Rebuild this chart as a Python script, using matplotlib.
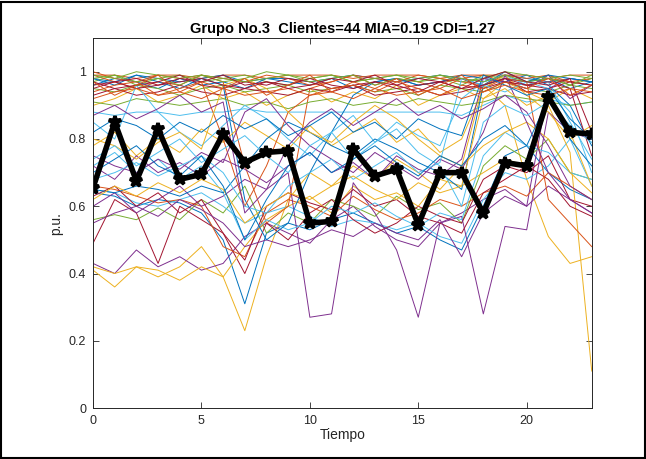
import matplotlib.pyplot as plt
from matplotlib.patches import Rectangle

plt.rcParams['font.family'] = ['Liberation Sans', 'DejaVu Sans']

tiempo = list(range(24))

# Curvas de los clientes (p.u.), en el orden en que se dibujan
c01 = [0.64, 0.63, 0.60, 0.62, 0.61, 0.58, 0.50, 0.31, 0.52, 0.55, 0.53, 0.56, 0.58, 0.55, 0.52, 0.54, 0.50, 0.47, 0.60, 0.75, 0.78, 0.70, 0.65, 0.62]
c02 = [0.99, 0.99, 0.98, 0.99, 0.99, 0.98, 0.99, 0.99, 0.98, 0.99, 0.99, 0.99, 0.98, 0.99, 0.99, 0.99, 0.98, 0.99, 0.99, 0.99, 0.99, 0.98, 0.99, 0.99]
c03 = [0.41, 0.36, 0.42, 0.39, 0.42, 0.48, 0.39, 0.23, 0.45, 0.62, 0.70, 0.66, 0.72, 0.68, 0.74, 0.70, 0.65, 0.72, 0.96, 0.90, 0.68, 0.51, 0.43, 0.45]
c04 = [0.43, 0.40, 0.47, 0.42, 0.45, 0.41, 0.43, 0.51, 0.55, 0.52, 0.49, 0.56, 0.60, 0.54, 0.50, 0.48, 0.55, 0.58, 0.62, 0.65, 0.60, 0.95, 0.98, 0.97]
c05 = [0.56, 0.575, 0.56, 0.595, 0.56, 0.62, 0.58, 0.66, 0.52, 0.58, 0.55, 0.62, 0.60, 0.57, 0.63, 0.59, 0.61, 0.55, 0.72, 0.78, 0.74, 0.80, 0.70, 0.68]
c06 = [0.65, 0.64, 0.61, 0.60, 0.62, 0.64, 0.60, 0.55, 0.58, 0.60, 0.57, 0.54, 0.56, 0.55, 0.53, 0.55, 0.51, 0.49, 0.62, 0.70, 0.68, 0.72, 0.80, 0.66]
c07 = [0.49, 0.62, 0.58, 0.43, 0.60, 0.56, 0.52, 0.40, 0.55, 0.50, 0.58, 0.62, 0.56, 0.52, 0.55, 0.60, 0.57, 0.55, 0.68, 0.72, 0.70, 0.75, 0.62, 0.60]
c08 = [0.98, 0.97, 0.99, 0.98, 0.97, 0.98, 0.99, 0.97, 0.98, 0.98, 0.97, 0.98, 0.99, 0.98, 0.97, 0.98, 0.99, 0.98, 0.97, 0.99, 0.98, 0.97, 0.98, 0.97]
c09 = [0.66, 0.65, 0.63, 0.61, 0.62, 0.60, 0.48, 0.45, 0.58, 0.62, 0.60, 0.57, 0.63, 0.59, 0.56, 0.58, 0.62, 0.60, 0.64, 0.66, 0.63, 0.70, 0.66, 0.62]
c10 = [0.42, 0.40, 0.42, 0.41, 0.38, 0.42, 0.39, 0.48, 0.56, 0.60, 0.63, 0.58, 0.66, 0.62, 0.64, 0.60, 0.68, 0.66, 0.70, 0.74, 0.72, 0.90, 0.76, 0.11]
c11 = [0.60, 0.64, 0.58, 0.62, 0.66, 0.60, 0.63, 0.68, 0.65, 0.70, 0.27, 0.28, 0.67, 0.58, 0.47, 0.27, 0.55, 0.57, 0.28, 0.54, 0.53, 0.88, 0.82, 0.80]
c12 = [0.97, 0.99, 0.96, 0.98, 0.99, 0.97, 0.98, 0.99, 0.97, 0.96, 0.98, 0.99, 0.97, 0.98, 0.99, 0.97, 0.98, 0.96, 0.99, 0.98, 0.97, 0.99, 0.96, 0.98]
c13 = [0.88, 0.87, 0.88, 0.88, 0.87, 0.88, 0.88, 0.89, 0.88, 0.88, 0.88, 0.88, 0.88, 0.88, 0.88, 0.88, 0.88, 0.87, 0.90, 0.93, 0.91, 0.92, 0.90, 0.91]
c14 = [0.63, 0.66, 0.60, 0.64, 0.58, 0.62, 0.52, 0.44, 0.60, 0.64, 0.61, 0.59, 0.65, 0.60, 0.62, 0.57, 0.55, 0.52, 0.64, 0.68, 0.72, 0.68, 0.60, 0.57]
c15 = [0.96, 0.98, 0.97, 0.95, 0.98, 0.96, 0.97, 0.95, 0.98, 0.97, 0.96, 0.98, 0.95, 0.97, 0.98, 0.96, 0.97, 0.98, 0.96, 1.00, 0.97, 0.98, 0.95, 0.97]
c16 = [0.99, 0.97, 0.95, 0.97, 0.96, 0.99, 0.97, 0.72, 0.55, 0.60, 0.95, 0.97, 0.99, 0.96, 0.98, 0.97, 0.95, 0.98, 0.99, 0.97, 0.96, 0.98, 0.97, 0.96]
c17 = [0.90, 0.92, 0.95, 0.91, 0.93, 0.96, 0.92, 0.94, 0.90, 0.93, 0.95, 0.91, 0.94, 0.92, 0.96, 0.90, 0.93, 0.95, 0.92, 0.97, 0.94, 0.91, 0.95, 0.92]
c18 = [0.55, 0.58, 0.60, 0.57, 0.62, 0.59, 0.55, 0.48, 0.50, 0.48, 0.50, 0.53, 0.51, 0.55, 0.52, 0.50, 0.56, 0.45, 0.58, 0.63, 0.60, 0.66, 0.62, 0.58]
c19 = [0.95, 0.94, 0.96, 0.95, 0.93, 0.95, 0.96, 0.94, 0.95, 0.96, 0.94, 0.95, 0.96, 0.94, 0.95, 0.93, 0.96, 0.95, 0.94, 0.97, 0.95, 0.94, 0.96, 0.95]
c20 = [0.72, 0.76, 0.70, 0.74, 0.68, 0.72, 0.64, 0.50, 0.56, 0.53, 0.55, 0.60, 0.58, 0.61, 0.57, 0.54, 0.58, 0.56, 0.75, 0.82, 0.78, 0.76, 0.70, 0.68]
c21 = [0.93, 0.95, 0.93, 0.94, 0.96, 0.94, 0.93, 0.95, 0.94, 0.93, 0.95, 0.94, 0.96, 0.93, 0.94, 0.95, 0.93, 0.94, 0.96, 0.98, 0.94, 0.95, 0.93, 0.94]
c22 = [0.98, 0.96, 0.99, 0.97, 0.95, 0.98, 0.96, 0.62, 0.50, 0.55, 0.70, 0.82, 0.93, 0.97, 0.98, 0.96, 0.97, 0.99, 0.98, 0.97, 0.99, 0.96, 0.90, 0.78]
c23 = [1.00, 0.98, 0.97, 0.99, 0.98, 0.99, 0.98, 0.97, 0.99, 0.98, 0.96, 0.97, 0.99, 0.98, 0.97, 0.99, 0.98, 0.97, 0.96, 0.99, 0.98, 0.99, 0.97, 0.98]
c24 = [0.78, 0.82, 0.75, 0.80, 0.76, 0.83, 0.79, 0.85, 0.81, 0.77, 0.84, 0.78, 0.82, 0.86, 0.79, 0.83, 0.76, 0.80, 0.95, 0.99, 0.93, 0.88, 0.80, 0.84]
c25 = [0.72, 0.68, 0.75, 0.70, 0.73, 0.69, 0.74, 0.71, 0.67, 0.72, 0.76, 0.70, 0.73, 0.68, 0.75, 0.71, 0.69, 0.74, 0.98, 0.97, 0.95, 0.99, 0.92, 0.96]
c26 = [0.91, 0.90, 0.92, 0.91, 0.90, 0.91, 0.92, 0.90, 0.91, 0.89, 0.91, 0.92, 0.90, 0.91, 0.90, 0.92, 0.91, 0.90, 0.91, 0.93, 0.92, 0.91, 0.90, 0.91]
c27 = [0.85, 0.80, 0.96, 0.88, 0.82, 0.78, 0.84, 0.90, 0.86, 0.80, 0.75, 0.82, 0.87, 0.79, 0.85, 0.81, 0.78, 0.92, 0.97, 0.99, 0.96, 0.97, 0.85, 0.74]
c28 = [0.97, 0.95, 0.96, 0.97, 0.99, 0.96, 0.95, 0.97, 0.96, 0.98, 0.97, 0.95, 0.96, 0.97, 0.95, 0.96, 0.97, 0.98, 0.95, 0.97, 0.96, 0.95, 0.97, 0.96]
c29 = [0.65, 0.64, 0.66, 0.65, 0.63, 0.66, 0.64, 0.72, 0.80, 0.85, 0.82, 0.78, 0.75, 0.80, 0.77, 0.73, 0.70, 0.65, 0.96, 0.98, 0.97, 0.99, 0.98, 0.97]
c30 = [0.94, 0.96, 0.97, 0.93, 0.95, 0.97, 0.80, 0.60, 0.72, 0.88, 0.93, 0.95, 0.96, 0.94, 0.97, 0.95, 0.93, 0.96, 0.95, 0.98, 0.97, 0.62, 0.55, 0.48]
c31 = [0.80, 0.78, 0.74, 0.79, 0.82, 0.77, 0.96, 0.98, 0.95, 0.88, 0.82, 0.79, 0.85, 0.90, 0.86, 0.80, 0.75, 0.72, 0.78, 0.82, 0.85, 0.80, 0.70, 0.64]
c32 = [0.75, 0.72, 0.70, 0.74, 0.71, 0.76, 0.73, 0.88, 0.92, 0.84, 0.78, 0.74, 0.70, 0.76, 0.72, 0.68, 0.74, 0.71, 0.82, 0.99, 0.85, 0.70, 0.62, 0.58]
c33 = [0.99, 0.98, 1.00, 0.99, 0.98, 0.99, 0.97, 0.98, 1.00, 0.99, 0.98, 0.99, 0.97, 0.98, 0.99, 0.98, 0.99, 0.97, 0.98, 1.00, 0.99, 0.98, 0.99, 0.98]
c34 = [0.68, 0.70, 0.73, 0.69, 0.72, 0.75, 0.70, 0.60, 0.58, 0.66, 0.70, 0.74, 0.68, 0.72, 0.76, 0.70, 0.73, 0.98, 0.96, 0.94, 0.97, 0.95, 0.88, 0.70]
c35 = [0.96, 0.97, 0.95, 0.96, 0.97, 0.98, 0.96, 0.95, 0.97, 0.96, 0.98, 0.96, 0.95, 0.97, 0.96, 0.94, 0.97, 0.95, 0.96, 0.98, 0.96, 0.97, 0.95, 0.75]
c36 = [0.82, 0.86, 0.84, 0.80, 0.85, 0.82, 0.87, 0.83, 0.86, 0.81, 0.84, 0.88, 0.82, 0.85, 0.80, 0.86, 0.83, 0.81, 0.99, 0.96, 0.93, 0.95, 0.86, 0.80]
c37 = [0.92, 0.94, 0.95, 0.93, 0.94, 0.92, 0.95, 0.93, 0.94, 0.95, 0.93, 0.94, 0.92, 0.95, 0.93, 0.94, 0.95, 0.92, 0.94, 0.96, 0.94, 0.93, 0.95, 0.94]
c38 = [0.62, 0.66, 0.63, 0.67, 0.64, 0.68, 0.65, 0.55, 0.60, 0.64, 0.62, 0.66, 0.69, 0.65, 0.62, 0.67, 0.64, 0.66, 0.92, 0.95, 0.90, 0.93, 0.82, 0.66]
c39 = [0.87, 0.90, 0.86, 0.89, 0.93, 0.88, 0.91, 0.58, 0.65, 0.78, 0.85, 0.89, 0.84, 0.88, 0.92, 0.87, 0.90, 0.86, 0.89, 0.93, 0.88, 0.78, 0.66, 0.62]
c40 = [0.98, 0.99, 0.97, 0.98, 0.96, 0.99, 0.98, 0.97, 0.98, 0.99, 0.97, 0.98, 0.99, 0.96, 0.98, 0.97, 0.99, 0.98, 0.97, 0.99, 0.97, 0.98, 0.96, 0.99]
c41 = [0.74, 0.78, 0.72, 0.76, 0.80, 0.73, 0.77, 0.81, 0.75, 0.70, 0.78, 0.82, 0.74, 0.79, 0.83, 0.76, 0.72, 0.60, 0.85, 0.90, 0.87, 0.91, 0.84, 0.79]
c42 = [0.95, 0.97, 0.98, 0.96, 0.98, 0.97, 0.99, 0.96, 0.97, 0.95, 0.96, 0.98, 0.97, 0.99, 0.96, 0.98, 0.97, 0.95, 0.98, 1.00, 0.97, 0.96, 0.98, 0.82]
c43 = [0.70, 0.74, 0.78, 0.72, 0.69, 0.75, 0.66, 0.50, 0.62, 0.72, 0.76, 0.70, 0.74, 0.78, 0.73, 0.69, 0.75, 0.72, 0.80, 0.84, 0.78, 0.92, 0.80, 0.72]
c44 = [0.97, 0.93, 0.96, 0.99, 0.94, 0.97, 0.95, 0.98, 0.93, 0.96, 0.99, 0.94, 0.97, 0.95, 0.98, 0.93, 0.96, 0.99, 0.94, 0.97, 0.95, 0.98, 0.93, 0.96]

clientes = [c01, c02, c03, c04, c05, c06, c07, c08, c09, c10, c11,
            c12, c13, c14, c15, c16, c17, c18, c19, c20, c21, c22,
            c23, c24, c25, c26, c27, c28, c29, c30, c31, c32, c33,
            c34, c35, c36, c37, c38, c39, c40, c41, c42, c43, c44]

# Curva representativa del grupo (negra)
centro = [0.655, 0.85, 0.675, 0.83, 0.68, 0.695, 0.815, 0.73, 0.76, 0.765, 0.55, 0.555,
          0.77, 0.69, 0.71, 0.545, 0.70, 0.70, 0.58, 0.73, 0.72, 0.925, 0.82, 0.815]

# Orden de colores por defecto de MATLAB
colores = ['#0072BD', '#D95319', '#EDB120', '#7E2F8E', '#77AC30', '#4DBEEE', '#A2142F']

fig = plt.figure(figsize=(6.46, 4.59), dpi=100)
ax = fig.add_axes([0.144, 0.111, 0.772, 0.806])

for i, c in enumerate(clientes):
    ax.plot(tiempo, c, color=colores[i % 7], linewidth=0.7)

ax.plot(tiempo, centro, color='black', linewidth=4, marker='*',
        markersize=9, markeredgewidth=2.6)

ax.set_xlim(0, 23)
ax.set_ylim(0, 1.1)
ax.set_xticks([0, 5, 10, 15, 20])
ax.set_yticks([0, 0.2, 0.4, 0.6, 0.8, 1])
ax.set_yticklabels(['0', '0.2', '0.4', '0.6', '0.8', '1'])
ax.tick_params(direction='in', top=True, right=True, labelsize=9, length=4,
               width=0.6, colors='#262626', pad=5)
for s in ax.spines.values():
    s.set_linewidth(0.7)
    s.set_color('#262626')

ax.set_xlabel('Tiempo', fontsize=10, color='#262626', labelpad=1)
ax.set_ylabel('p.u.', fontsize=10, color='#262626', labelpad=4)
ax.set_title('Grupo No.3  Clientes=44 MIA=0.19 CDI=1.27', fontsize=10.5,
             fontweight='bold', pad=4)

# marco exterior de la figura
fig.patches.append(Rectangle((0.002, 0.003), 0.996, 0.993, transform=fig.transFigure,
                             fill=False, edgecolor='black', linewidth=1.5))

fig.savefig('out.png', dpi=100)
